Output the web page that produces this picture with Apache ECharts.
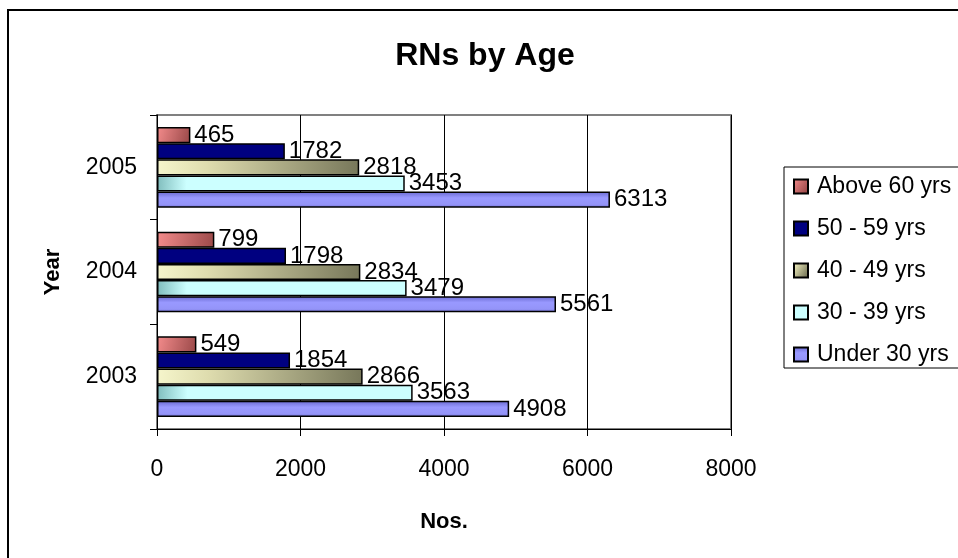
<!DOCTYPE html>
<html>
<head>
<meta charset="utf-8">
<script src="https://cdn.jsdelivr.net/npm/echarts@6/dist/echarts.min.js"></script>
<style>html,body{margin:0;padding:0;background:#fff}#c{width:958px;height:558px}</style>
</head>
<body>
<div id="c"></div>
<script>
var years = ['2003', '2004', '2005'];
var seriesNames = ['Above 60 yrs', '50 - 59 yrs', '40 - 49 yrs', '30 - 39 yrs', 'Under 30 yrs'];
var above60 = [549, 799, 465];
var age50to59 = [1854, 1798, 1782];
var age40to49 = [2866, 2834, 2818];
var age30to39 = [3563, 3479, 3453];
var under30 = [4908, 5561, 6313];
var xTicks = [0, 2000, 4000, 6000, 8000];

var G = echarts.graphic.LinearGradient;
var fills = [
  new G(0, 0, 1, 0.6, [{offset: 0, color: '#f48c8c'}, {offset: 1, color: '#9c4a4a'}]),
  '#000080',
  new G(0, 0, 1, 0.6, [{offset: 0, color: '#f6f6cc'}, {offset: 0.25, color: '#dedcae'}, {offset: 1, color: '#77775a'}]),
  new G(0, 0, 1, 0.3, [{offset: 0, color: '#7fbcbc'}, {offset: 0.12, color: '#ccffff'}, {offset: 1, color: '#ccffff'}]),
  new G(0, 0, 0, 1, [{offset: 0, color: '#6a6ad0'}, {offset: 0.4, color: '#9999ff'}, {offset: 0.8, color: '#9494f8'}, {offset: 1, color: '#7272d6'}])
];
var values = [above60, age50to59, age40to49, age30to39, under30];
var FONT = '"Liberation Sans", Arial, sans-serif';

var series = seriesNames.map(function (n, i) {
  return {
    name: n,
    type: 'bar',
    data: values[i],
    barGap: '0%',
    barCategoryGap: '23%',
    itemStyle: {color: fills[i], borderColor: '#000', borderWidth: 1.5},
    label: {show: true, position: 'right', distance: 4, color: '#000', fontSize: 24, fontFamily: FONT},
    emphasis: {disabled: true}
  };
});

var chart = echarts.init(document.getElementById('c'), null, {renderer: 'canvas'});
chart.setOption({
  animation: false,
  backgroundColor: '#fff',
  title: {
    text: 'RNs by Age', left: 480, top: 35, textAlign: 'center',
    textStyle: {fontFamily: FONT, fontWeight: 'bold', fontSize: 32, color: '#000'}
  },
  graphic: [{
    type: 'rect', shape: {x: 8, y: 10, width: 1000, height: 600},
    style: {fill: 'none', stroke: '#000', lineWidth: 2}, silent: true
  }],
  legend: {
    orient: 'vertical', left: 784, top: 167,
    data: seriesNames,
    itemWidth: 14, itemHeight: 14, itemGap: 19,
    icon: 'rect',
    padding: [8, 30, 2, 9],
    borderColor: '#000', borderWidth: 1,
    textStyle: {fontFamily: FONT, fontSize: 23, color: '#000', padding: [0, 0, 0, 4]}
  },
  grid: {left: 157, right: 227, top: 115, bottom: 129, show: true, borderColor: '#808080', borderWidth: 2, backgroundColor: '#fff'},
  xAxis: {
    type: 'value', min: xTicks[0], max: xTicks[xTicks.length - 1], interval: 2000,
    name: 'Nos.', nameLocation: 'middle', nameGap: 82,
    nameTextStyle: {fontFamily: FONT, fontWeight: 'bold', fontSize: 22, color: '#000'},
    axisLine: {show: true, lineStyle: {color: '#000', width: 1}},
    axisTick: {show: true, length: 7, inside: false, lineStyle: {color: '#000'}},
    axisLabel: {margin: 29, fontFamily: FONT, fontSize: 23, color: '#000', formatter: function (v) { return String(v); }},
    splitLine: {show: true, lineStyle: {color: '#000', width: 1}}
  },
  yAxis: {
    type: 'category', data: years,
    name: 'Year', nameLocation: 'middle', nameGap: 93, nameRotate: 90,
    nameTextStyle: {fontFamily: FONT, fontWeight: 'bold', fontSize: 22, color: '#000'},
    axisLine: {show: true, lineStyle: {color: '#000', width: 1}},
    axisTick: {show: true, length: 7, alignWithLabel: false, lineStyle: {color: '#000'}},
    axisLabel: {margin: 20, fontFamily: FONT, fontSize: 23, color: '#000'}
  },
  series: series
});
</script>
</body>
</html>
